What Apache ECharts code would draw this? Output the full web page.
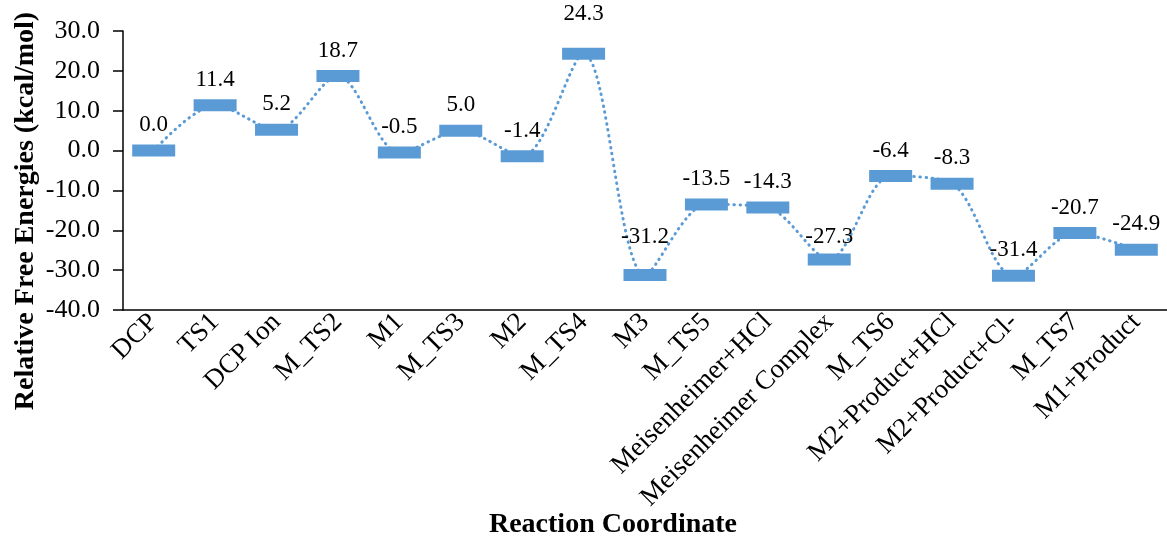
<!DOCTYPE html>
<html>
<head>
<meta charset="utf-8">
<script src="https://cdn.jsdelivr.net/npm/echarts@6/dist/echarts.min.js"></script>
<style>html,body{margin:0;padding:0;background:#fff}#c{width:1167px;height:540px}</style>
</head>
<body>
<div id="c"></div>
<script>
const categories = ["DCP","TS1","DCP Ion","M_TS2","M1","M_TS3","M2","M_TS4","M3","M_TS5","Meisenheimer+HCl","Meisenheimer Complex","M_TS6","M2+Product+HCl","M2+Product+Cl-","M_TS7","M1+Product"];
const energies = [0.0, 11.4, 5.2, 18.7, -0.5, 5.0, -1.4, 24.3, -31.2, -13.5, -14.3, -27.3, -6.4, -8.3, -31.4, -20.7, -24.9];
const yTicks = {min: -40, max: 30, interval: 10};
const yTitle = "Relative Free Energies (kcal/mol)";
const xTitle = "Reaction Coordinate";
// extra upward nudge (px) of individual value labels, as placed in the original
const labelLift = [0, 0, 0, 0, 0, 0, 0, 14, 12, 0, 0, -3, 0, 0, 0, 0, 0];

const font = "'Liberation Serif', 'Times New Roman', serif";
const seriesData = energies.map((v, i) => ({value: v, label: {offset: [0, -labelLift[i]]}}));
const chart = echarts.init(document.getElementById('c'));
chart.setOption({
  animation: false,
  grid: {left: 123, right: 0, top: 31, bottom: 230, containLabel: false},
  xAxis: {
    type: 'category', data: categories, boundaryGap: true,
    axisLine: {onZero: false, lineStyle: {color: '#000', width: 1.5}},
    axisTick: {show: false},
    axisLabel: {rotate: 45, color: '#000', fontFamily: font, fontSize: 27, margin: 8, interval: 0}
  },
  yAxis: {
    type: 'value', min: yTicks.min, max: yTicks.max, interval: yTicks.interval,
    axisLine: {show: true, lineStyle: {color: '#000', width: 1.5}},
    axisTick: {show: true, length: 10, lineStyle: {color: '#000', width: 1.5}},
    splitLine: {show: false},
    axisLabel: {color: '#000', fontFamily: font, fontSize: 26, margin: 23, formatter: v => v.toFixed(1)}
  },
  graphic: [
    {type: 'text', x: 613, y: 525, style: {text: xTitle, font: "bold 28px " + font, fill: '#000', textAlign: 'center', textVerticalAlign: 'middle'}},
    {type: 'text', x: 26, y: 211, rotation: Math.PI/2, style: {text: yTitle, font: "bold 28px " + font, fill: '#000', textAlign: 'center', textVerticalAlign: 'middle'}}
  ],
  series: [{
    type: 'line', data: seriesData, smooth: 0.3,
    symbol: 'rect', symbolSize: [43, 12],
    itemStyle: {color: '#5B9BD5'},
    lineStyle: {color: '#5B9BD5', width: 3, type: [0.5, 5.5], cap: 'round'},
    label: {show: true, position: 'top', distance: 8, color: '#000', fontFamily: font, fontSize: 23, formatter: p => p.value.toFixed(1)},
    z: 3
  }]
});
</script>
</body>
</html>
